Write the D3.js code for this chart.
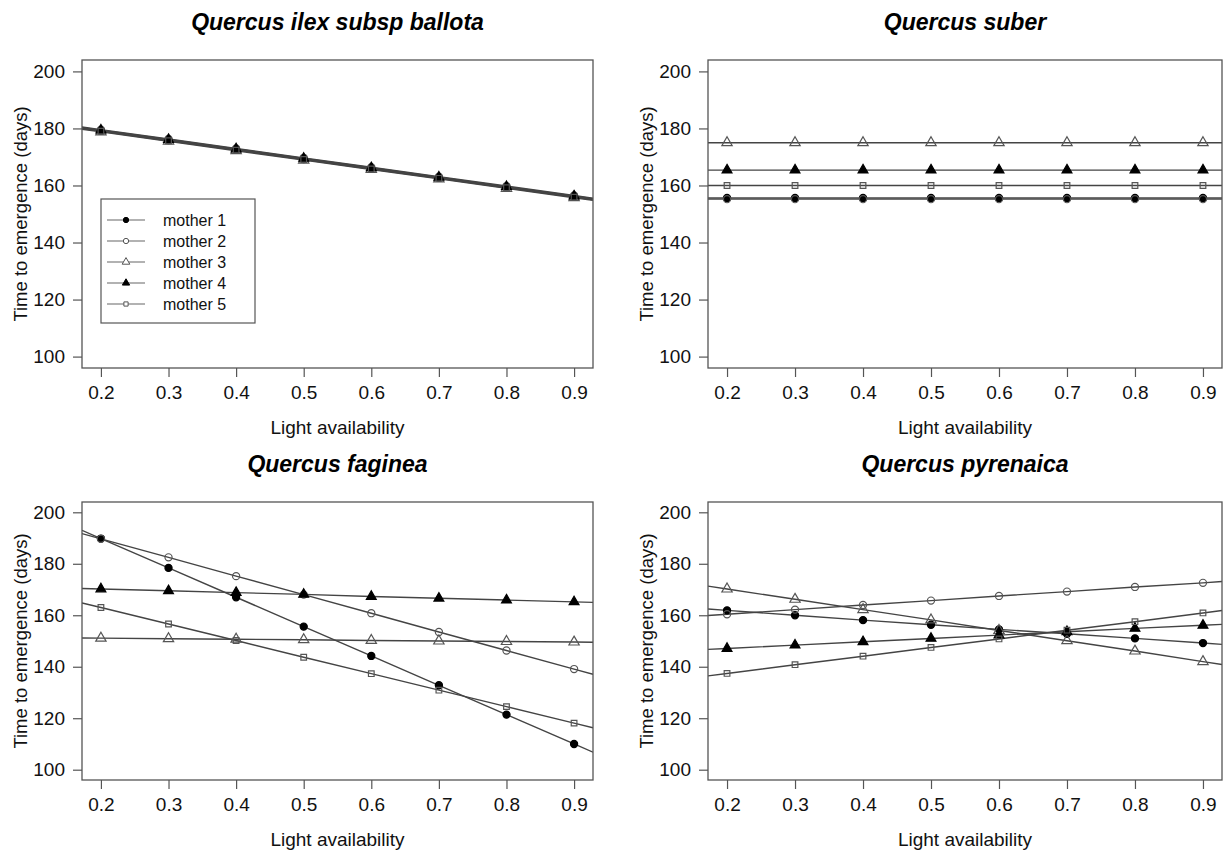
<!DOCTYPE html>
<html>
<head>
<meta charset="utf-8">
<script src="https://cdn.jsdelivr.net/npm/d3@7"></script>
<style>
  body { margin: 0; background: #fff; }
  svg { display: block; font-family: "Liberation Sans", Arial, sans-serif; }
</style>
</head>
<body>
<svg id="chart" width="1228" height="853"></svg>
<script>
// light levels on the x axis
var lightLevels = [0.2, 0.3, 0.4, 0.5, 0.6, 0.7, 0.8, 0.9]
var yTicks = [100, 120, 140, 160, 180, 200]
var mothers = ["mother 1", "mother 2", "mother 3", "mother 4", "mother 5"]
var species = ["Quercus ilex subsp ballota", "Quercus suber", "Quercus faginea", "Quercus pyrenaica"]

// time to emergence (days), one row per mother
var ilexValues = [
    [179.2, 175.9, 172.6, 169.3, 166.0, 162.7, 159.4, 156.1],
    [179.6, 176.3, 173.0, 169.7, 166.4, 163.1, 159.8, 156.5],
    [178.8, 175.5, 172.2, 168.9, 165.6, 162.3, 159.0, 155.7],
    [179.4, 176.1, 172.8, 169.5, 166.2, 162.9, 159.6, 156.3],
    [179.0, 175.7, 172.4, 169.1, 165.8, 162.5, 159.2, 155.9]
]
var suberValues = [
    [155.6, 155.6, 155.6, 155.6, 155.6, 155.6, 155.6, 155.6],
    [155.2, 155.2, 155.2, 155.2, 155.2, 155.2, 155.2, 155.2],
    [175.0, 175.0, 175.0, 175.0, 175.0, 175.0, 175.0, 175.0],
    [165.4, 165.4, 165.4, 165.4, 165.4, 165.4, 165.4, 165.4],
    [160.0, 160.0, 160.0, 160.0, 160.0, 160.0, 160.0, 160.0]
]
var fagineaValues = [
    [189.8, 178.4, 167.0, 155.6, 144.2, 132.8, 121.4, 110.0],
    [189.7, 182.5, 175.2, 168.0, 160.8, 153.5, 146.3, 139.1],
    [151.1, 150.9, 150.7, 150.5, 150.2, 150.0, 149.8, 149.6],
    [170.2, 169.5, 168.8, 168.1, 167.3, 166.6, 165.9, 165.2],
    [163.0, 156.6, 150.2, 143.7, 137.3, 130.9, 124.5, 118.1]
]
var pyrenaicaValues = [
    [161.9, 160.0, 158.1, 156.3, 154.5, 152.8, 151.0, 149.2],
    [160.4, 162.2, 164.0, 165.7, 167.5, 169.2, 171.0, 172.6],
    [170.2, 166.2, 162.2, 158.2, 154.1, 150.1, 146.1, 142.0],
    [147.1, 148.4, 149.7, 151.0, 152.3, 153.6, 154.9, 156.1],
    [137.4, 140.8, 144.1, 147.5, 150.8, 154.2, 157.5, 160.9]
]

var panelValues = [ilexValues, suberValues, fagineaValues, pyrenaicaValues]

var layout = [
    {left: 82, right: 593, top: 60, bottom: 368, legend: true},
    {left: 708, right: 1222, top: 60, bottom: 368},
    {left: 82, right: 593, top: 502, bottom: 780},
    {left: 708, right: 1222, top: 502, bottom: 780}
]

var markerStyle = [
    {shape: d3.symbolCircle, size: 40, fill: "#000", stroke: "#000"},
    {shape: d3.symbolCircle, size: 40, fill: "none", stroke: "#555"},
    {shape: d3.symbolTriangle, size: 46, fill: "none", stroke: "#555"},
    {shape: d3.symbolTriangle, size: 42, fill: "#000", stroke: "#000"},
    {shape: d3.symbolSquare, size: 32, fill: "none", stroke: "#555"}
]

var svg = d3.select("#chart")
var lineColor = "#444"
var xExtent = [0.172, 0.928]

layout.forEach(function(box, p) {
    var g = svg.append("g")

    var xScale = d3.scaleLinear()
                   .domain(xExtent)
                   .range([box.left, box.right])
    var yScale = d3.scaleLinear()
                   .domain([96, 204])
                   .range([box.bottom, box.top])

    var clipId = "clip" + p
    g.append("clipPath").attr("id", clipId)
     .append("rect")
     .attr("x", box.left).attr("y", box.top)
     .attr("width", box.right - box.left).attr("height", box.bottom - box.top)

    var line = d3.line().x(d => xScale(d[0])).y(d => yScale(d[1]))

    // regression lines, stretched across the plot region
    panelValues[p].forEach(function(vals) {
        var n = vals.length
        var slope = (vals[n - 1] - vals[0]) / (lightLevels[n - 1] - lightLevels[0])
        var pts = lightLevels.map((x, i) => [x, vals[i]])
        pts.unshift([xExtent[0], vals[0] + slope * (xExtent[0] - lightLevels[0])])
        pts.push([xExtent[1], vals[n - 1] + slope * (xExtent[1] - lightLevels[n - 1])])
        g.append("path")
         .attr("clip-path", "url(#" + clipId + ")")
         .attr("d", line(pts))
         .attr("fill", "none")
         .attr("stroke", lineColor)
         .attr("stroke-width", 1.4)
    })

    panelValues[p].forEach(function(vals, m) {
        var st = markerStyle[m]
        g.append("g")
         .selectAll("path")
         .data(vals)
         .enter()
         .append("path")
         .attr("transform", (d, i) => `translate(${xScale(lightLevels[i])},${yScale(d)})`)
         .attr("d", d3.symbol().type(st.shape).size(st.size))
         .attr("fill", st.fill)
         .attr("stroke", st.stroke)
         .attr("stroke-width", 1.2)
    })

    g.append("rect")
     .attr("x", box.left).attr("y", box.top)
     .attr("width", box.right - box.left).attr("height", box.bottom - box.top)
     .attr("fill", "none")
     .attr("stroke", "#555")
     .attr("stroke-width", 1.3)

    var xAxis = g.append("g")
                 .attr("transform", `translate(0,${box.bottom})`)
                 .call(d3.axisBottom(xScale).tickValues(lightLevels)
                         .tickFormat(d3.format(".1f")).tickSize(9).tickSizeOuter(0).tickPadding(9))
    var yAxis = g.append("g")
                 .attr("transform", `translate(${box.left},0)`)
                 .call(d3.axisLeft(yScale).tickValues(yTicks)
                         .tickSize(9).tickSizeOuter(0).tickPadding(8))

    ;[xAxis, yAxis].forEach(function(ax) {
        ax.select(".domain").remove()
        ax.selectAll("line").attr("stroke", "#555").attr("stroke-width", 1.2)
        ax.selectAll("text").attr("fill", "#111")
          .style("font-size", "19px").style("font-family", "Liberation Sans, Arial, sans-serif")
    })

    g.append("text")
     .attr("x", (box.left + box.right) / 2)
     .attr("y", box.bottom + 66)
     .attr("text-anchor", "middle")
     .attr("fill", "#111")
     .style("font-size", "19px")
     .text("Light availability")

    g.append("text")
     .attr("transform", `translate(${box.left - 55},${(box.top + box.bottom) / 2}) rotate(-90)`)
     .attr("text-anchor", "middle")
     .attr("fill", "#111")
     .style("font-size", "18.5px")
     .text("Time to emergence (days)")

    g.append("text")
     .attr("x", (box.left + box.right) / 2)
     .attr("y", box.top - 30)
     .attr("text-anchor", "middle")
     .attr("fill", "#000")
     .style("font-size", "23px")
     .style("font-weight", "bold")
     .style("font-style", "italic")
     .text(species[p])

    if (box.legend) {
        var lg = g.append("g")
        lg.append("rect")
          .attr("x", 101).attr("y", 199).attr("width", 154).attr("height", 124)
          .attr("fill", "#fff").attr("stroke", "#555").attr("stroke-width", 1.2)
        mothers.forEach(function(name, m) {
            var yy = 220 + m * 21
            var st = markerStyle[m]
            lg.append("line")
              .attr("x1", 107).attr("x2", 145).attr("y1", yy).attr("y2", yy)
              .attr("stroke", "#666").attr("stroke-width", 1.2)
            lg.append("path")
              .attr("transform", `translate(126,${yy})`)
              .attr("d", d3.symbol().type(st.shape).size(st.size * 0.55))
              .attr("fill", st.fill === "none" ? "#fff" : st.fill)
              .attr("stroke", st.stroke)
              .attr("stroke-width", 1)
            lg.append("text")
              .attr("x", 163).attr("y", yy)
              .attr("dy", "0.35em")
              .attr("fill", "#111")
              .style("font-size", "16px")
              .text(name)
        })
    }
})
</script>
</body>
</html>
